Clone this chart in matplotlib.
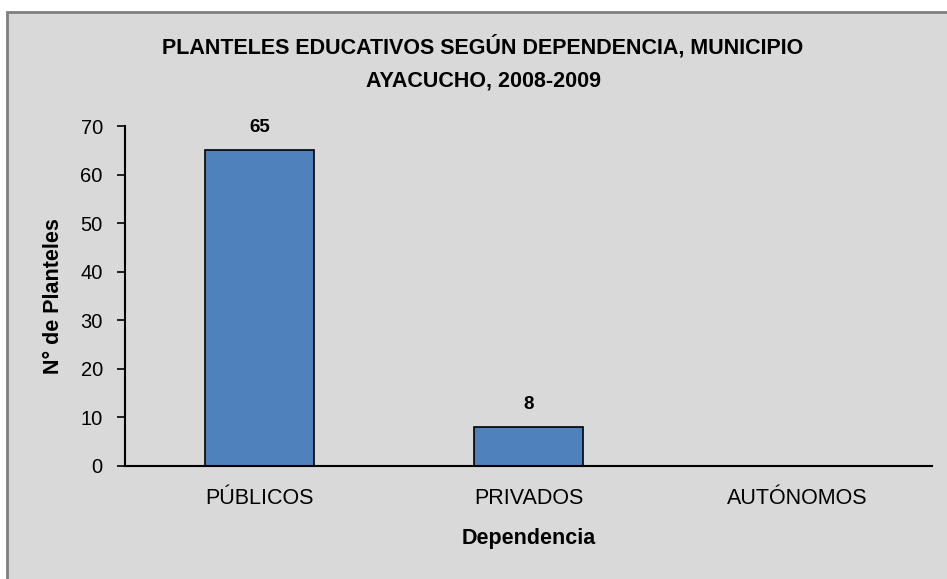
import matplotlib
matplotlib.use("Agg")
import matplotlib.pyplot as plt
from matplotlib.patches import Rectangle

# data
categorias = ["PÚBLICOS", "PRIVADOS", "AUTÓNOMOS"]
planteles = [65, 8, 0]
etiquetas = ["65", "8", ""]
y_ticks = [0, 10, 20, 30, 40, 50, 60, 70]

plt.rcParams['font.family'] = ['Liberation Sans', 'DejaVu Sans']

fig = plt.figure(figsize=(9.47, 5.79), dpi=100, facecolor='white')

# gray chart area with border (Excel style)
fig.patches.append(Rectangle((7 / 947, -0.05), 1.0, 1 - 12 / 579 + 0.05,
                             transform=fig.transFigure, facecolor='#d9d9d9',
                             edgecolor='#808080', linewidth=2, zorder=-10))

ax = fig.add_axes([125 / 947, 1 - 465.7 / 579, (932 - 125) / 947, (465.7 - 126) / 579])
ax.set_facecolor('none')
ax.set_zorder(1)

x = range(len(categorias))
bars = ax.bar(x, planteles, width=0.405, color='#4f81bd', edgecolor='black', linewidth=1.2)

for xi, val, lab in zip(x, planteles, etiquetas):
    if lab:
        ax.annotate(lab, (xi, val), xytext=(0, 10), textcoords='offset points',
                    ha='center', va='bottom', fontsize=13.5, fontweight='bold')

ax.set_xlim(-0.5, len(categorias) - 0.5)
ax.set_ylim(0, 70)
ax.set_yticks(y_ticks)
ax.set_xticks(list(x))
ax.set_xticklabels(categorias)

for s in ['top', 'right']:
    ax.spines[s].set_visible(False)
for s in ['left', 'bottom']:
    ax.spines[s].set_linewidth(1.5)
    ax.spines[s].set_color('black')

ax.tick_params(axis='y', length=6, width=1.2, labelsize=14.5, pad=10)
ax.tick_params(axis='x', length=0, labelsize=15.5, pad=16)

ax.set_xlabel("Dependencia", fontsize=15.5, fontweight='bold', labelpad=14)
ax.set_ylabel("N° de Planteles", fontsize=15.5, fontweight='bold', labelpad=12)

fig.text(483 / 947, 1 - 47 / 579, "PLANTELES EDUCATIVOS SEGÚN DEPENDENCIA, MUNICIPIO",
         ha='center', va='center', fontsize=15.5, fontweight='bold')
fig.text(483 / 947, 1 - 81 / 579, "AYACUCHO, 2008-2009",
         ha='center', va='center', fontsize=15.5, fontweight='bold')

fig.savefig("out.png", dpi=100, facecolor='white')
